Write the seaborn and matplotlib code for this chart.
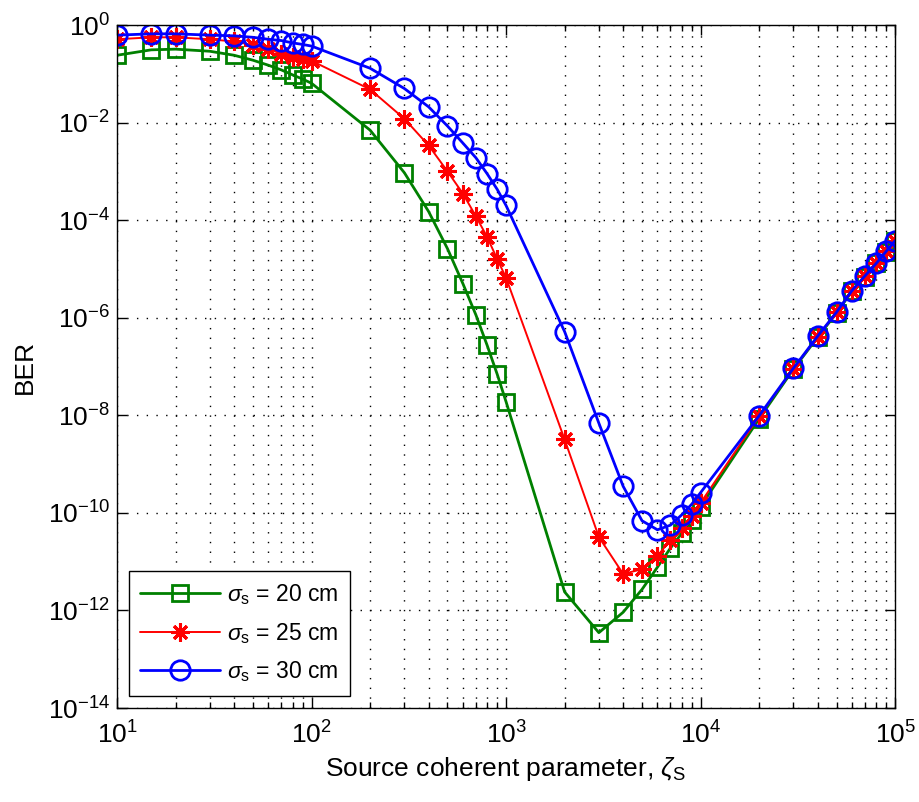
import numpy as np
import pandas as pd
import matplotlib
matplotlib.use("Agg")
import matplotlib.pyplot as plt
import seaborn as sns
from matplotlib.ticker import LogLocator, FixedLocator, NullFormatter

zeta = [10, 15, 20, 30, 40, 50, 60, 70, 80, 90, 100,
        200, 300, 400, 500, 600, 700, 800, 900, 1000,
        2000, 3000, 4000, 5000, 6000, 7000, 8000, 9000, 10000,
        20000, 30000, 40000, 50000, 60000, 70000, 80000, 90000, 100000]

ber_20 = [0.24, 0.31, 0.32, 0.29, 0.24, 0.19, 0.15, 0.12, 0.095, 0.078, 0.064,
          7.0e-3, 9.4e-4, 1.5e-4, 2.6e-5, 5.0e-6, 1.14e-6, 2.7e-7, 7.0e-8, 1.9e-8,
          2.4e-12, 3.5e-13, 9.2e-13, 2.7e-12, 7.7e-12, 1.9e-11, 3.8e-11, 7.2e-11, 1.35e-10,
          8.5e-9, 8.8e-8, 4.0e-7, 1.25e-6, 3.5e-6, 7.0e-6, 1.3e-5, 2.2e-5, 3.7e-5]

ber_25 = [0.51, 0.56, 0.56, 0.51, 0.46, 0.39, 0.32, 0.26, 0.22, 0.20, 0.185,
          0.048, 0.012, 3.4e-3, 1.0e-3, 3.5e-4, 1.2e-4, 4.5e-5, 1.6e-5, 6.6e-6,
          3.2e-9, 3.2e-11, 5.6e-12, 7.0e-12, 1.3e-11, 2.8e-11, 4.9e-11, 8.5e-11, 1.6e-10,
          9.5e-9, 9.1e-8, 4.1e-7, 1.3e-6, 3.6e-6, 7.1e-6, 1.3e-5, 2.3e-5, 3.8e-5]

ber_30 = [0.62, 0.66, 0.66, 0.62, 0.60, 0.56, 0.51, 0.48, 0.43, 0.40, 0.37,
          0.13, 0.05, 0.021, 8.5e-3, 3.8e-3, 1.9e-3, 8.9e-4, 4.3e-4, 2.0e-4,
          5.2e-7, 6.9e-9, 3.5e-10, 6.9e-11, 4.5e-11, 5.6e-11, 9.1e-11, 1.5e-10, 2.6e-10,
          9.8e-9, 9.2e-8, 4.2e-7, 1.3e-6, 3.6e-6, 7.2e-6, 1.3e-5, 2.3e-5, 3.8e-5]

labels = [r"$\sigma_{\rm s}$ = 20 cm", r"$\sigma_{\rm s}$ = 25 cm", r"$\sigma_{\rm s}$ = 30 cm"]
colors = ["#008000", "#ff0000", "#0000ff"]

sns.set_style("ticks")
plt.rcParams["font.family"] = ["Liberation Sans", "DejaVu Sans"]
plt.rcParams["mathtext.fontset"] = "custom"
plt.rcParams["mathtext.rm"] = "Liberation Sans"
plt.rcParams["mathtext.it"] = "Liberation Sans:italic"
plt.rcParams["mathtext.sf"] = "Liberation Sans"
for key in ["text.color", "axes.labelcolor", "xtick.color", "ytick.color", "axes.edgecolor"]:
    plt.rcParams[key] = "black"

fig = plt.figure(figsize=(9.19, 8.02), dpi=100)
ax = fig.add_axes([0.1273, 0.1172, 0.974 - 0.1273, 0.9688 - 0.1172])

df = pd.DataFrame({"zeta": zeta, "b20": ber_20, "b25": ber_25, "b30": ber_30})

sns.lineplot(data=df, x="zeta", y="b20", ax=ax, color=colors[0], lw=2.0,
             marker="s", markersize=11, mfc="none", mec=colors[0], mew=2.0,
             label=labels[0], sort=False)
sns.lineplot(data=df, x="zeta", y="b25", ax=ax, color=colors[1], lw=1.4,
             marker=(8, 2, 0), markersize=13, mec=colors[1], mew=2.2,
             label=labels[1], sort=False)
sns.lineplot(data=df, x="zeta", y="b30", ax=ax, color=colors[2], lw=2.0,
             marker="o", markersize=14, mfc="none", mec=colors[2], mew=2.0,
             label=labels[2], sort=False)

ax.set_xscale("log")
ax.set_yscale("log")
ax.set_xlim(10, 1e5)
ax.set_ylim(1e-14, 1)

ax.xaxis.set_major_locator(LogLocator(base=10, numticks=10))
ax.xaxis.set_minor_locator(LogLocator(base=10, subs=np.arange(2, 10), numticks=20))
ax.xaxis.set_minor_formatter(NullFormatter())
ax.yaxis.set_major_locator(FixedLocator([10.0 ** k for k in range(-14, 1, 2)]))
ax.yaxis.set_minor_locator(FixedLocator([]))

ax.grid(True, which="major", axis="both", color="black", linestyle=(0, (1, 6)), lw=1.0)
ax.grid(True, which="minor", axis="x", color="black", linestyle=(0, (1, 6)), lw=1.0)

ax.tick_params(which="both", direction="in", top=True, right=True, labelsize=19, width=1.0,
               color="black", labelcolor="black")
ax.tick_params(which="major", length=7)
ax.tick_params(axis="x", which="major", pad=10)
ax.tick_params(axis="y", which="major", pad=5)
ax.tick_params(which="minor", length=4)
for s in ax.spines.values():
    s.set_linewidth(1.0)
    s.set_color("black")

ax.set_xlabel(r"Source coherent parameter, $\zeta_{\rm S}$", fontsize=19, labelpad=4, color="black")
ax.set_ylabel("BER", fontsize=19, labelpad=8, color="black")

leg = ax.legend(loc="lower left", bbox_to_anchor=(0.015, 0.018), fontsize=16.5,
                frameon=True, fancybox=False, edgecolor="black", framealpha=1,
                handlelength=3.5, borderpad=0.5, labelspacing=0.6, handletextpad=0.3,
                borderaxespad=0)
leg.get_frame().set_linewidth(1.0)
for t in leg.get_texts():
    t.set_color("black")

fig.savefig("out.png", dpi=100, facecolor="white")
